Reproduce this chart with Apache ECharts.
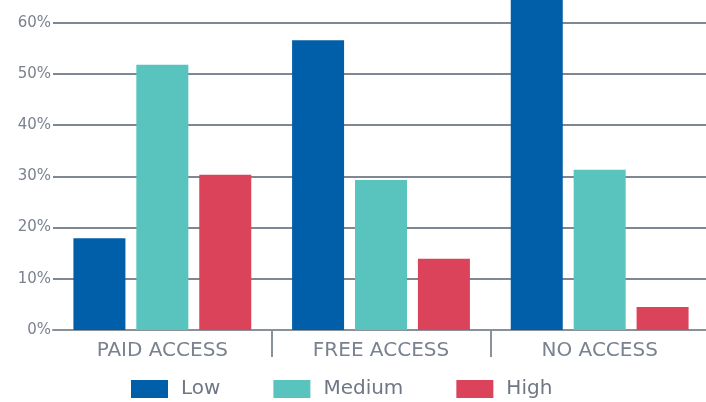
<!DOCTYPE html>
<html><head><meta charset="utf-8">
<script src="https://cdn.jsdelivr.net/npm/echarts@6/dist/echarts.min.js"></script>
<style>html,body{margin:0;padding:0;background:#fff}#c{width:706px;height:402px}</style>
</head><body><div id="c"></div>
<script>
const categories = ["PAID ACCESS", "FREE ACCESS", "NO ACCESS"];
const lowValues = [17.9, 56.6, 66];
const mediumValues = [51.8, 29.3, 31.3];
const highValues = [30.3, 13.9, 4.5];
const seriesNames = ["Low", "Medium", "High"];
const colors = ["#005fa8", "#58c4bd", "#da4359"];

const chart = echarts.init(document.getElementById('c'), null, {renderer: 'canvas'});
const labelColor = '#7a828f';
const FONT = 'DejaVu Sans';
const mk = (name, data, color) => ({
  name, type: 'bar', data, barWidth: 52, barGap: '21%',
  itemStyle: {color}
});
chart.setOption({
  animation: false,
  textStyle: {fontFamily: FONT},
  grid: {left: 53, right: -3, top: -28.5, bottom: 72, containLabel: false, outerBoundsMode: 'none'},
  legend: {
    top: 379, left: 131, itemWidth: 37, itemHeight: 18, itemGap: 53,
    icon: 'rect', padding: 0,
    textStyle: {color: '#6f7784', fontSize: 20, fontFamily: FONT, padding: [0,0,0,8]},
    data: seriesNames
  },
  xAxis: {
    type: 'category', data: categories,
    axisLine: {lineStyle: {color: '#8a919b', width: 2}},
    axisTick: {show: true, length: 27, lineStyle: {color: '#8a919b', width: 2},
      interval: function(i){ return i === 1 || i === 2; }},
    axisLabel: {color: labelColor, fontSize: 20, margin: 11, fontFamily: FONT}
  },
  yAxis: {
    type: 'value', min: 0, max: 70, interval: 10,
    axisLine: {show: false}, axisTick: {show: false},
    axisLabel: {formatter: '{value}%', color: labelColor, fontSize: 15, margin: 2, fontFamily: FONT},
    splitLine: {lineStyle: {color: '#7f8792', width: 2}}
  },
  series: [
    mk(seriesNames[0], lowValues, colors[0]),
    mk(seriesNames[1], mediumValues, colors[1]),
    mk(seriesNames[2], highValues, colors[2])
  ]
});
</script></body></html>
